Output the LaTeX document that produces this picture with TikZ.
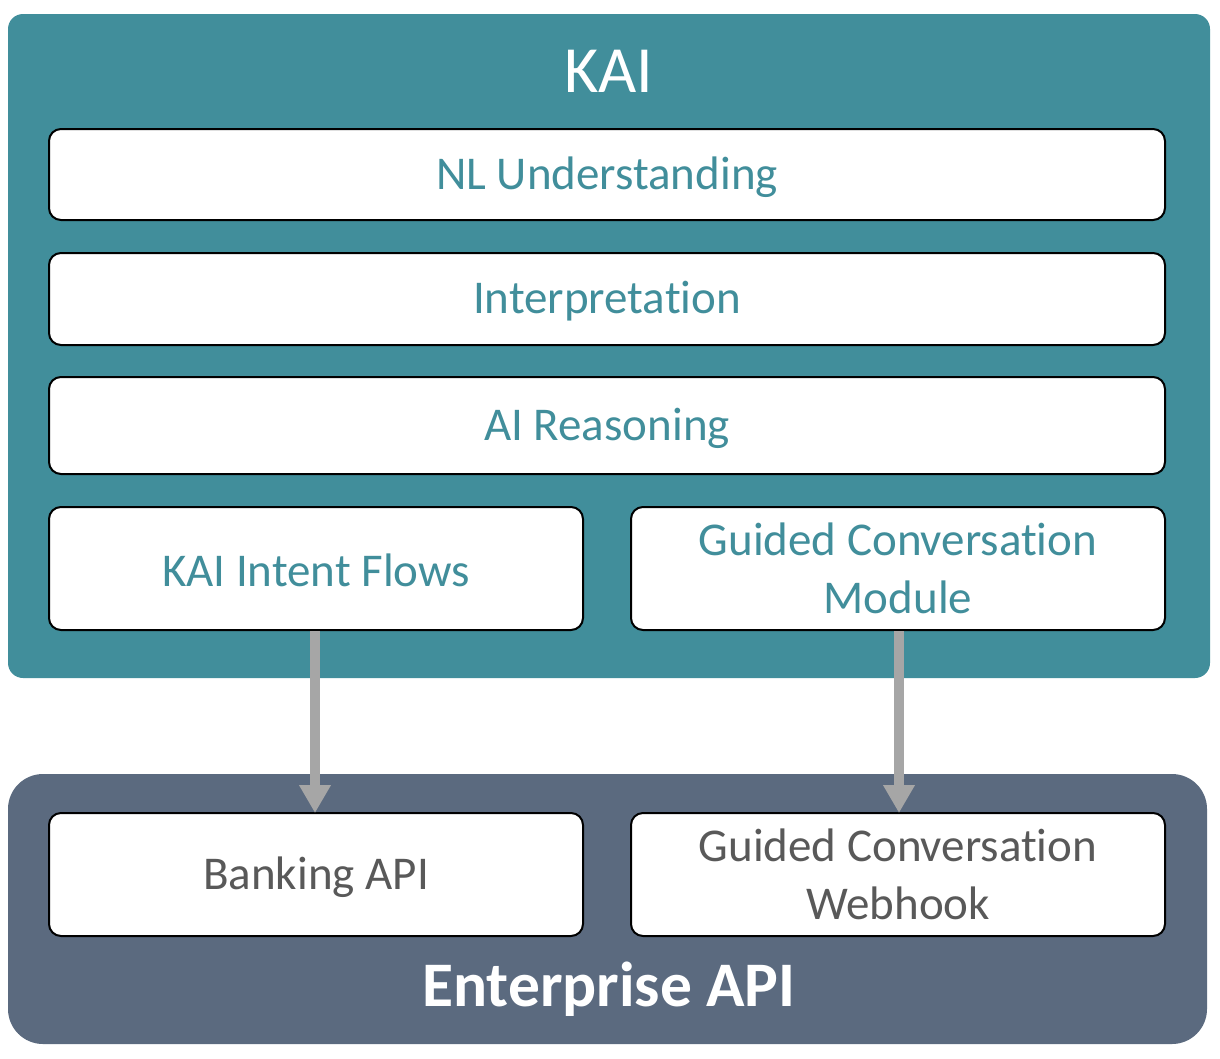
\documentclass[tikz,border=0pt]{standalone}
\usepackage{fontspec}
\setmainfont{Carlito}[Ligatures=NoCommon]
\usetikzlibrary{arrows.meta}
\definecolor{kaiteal}{HTML}{418E9B}
\definecolor{entslate}{HTML}{5B6A7F}
\definecolor{arrgray}{HTML}{A6A6A6}
\definecolor{txtgray}{HTML}{595959}
\begin{document}
\begin{tikzpicture}[x=1pt,y=-1pt,
  layer/.style={draw=black,line width=2pt,fill=white,rounded corners=12pt,inner sep=0pt},
  tealtxt/.style={text=kaiteal,font=\fontsize{47}{58}\selectfont,align=center},
  graytxt/.style={text=txtgray,font=\fontsize{47}{58}\selectfont,align=center},
  flow/.style={draw=arrgray,line width=10pt,-{Triangle[width=30pt,length=28pt]}}]
\useasboundingbox (0,0) rectangle (1220,1058);
% containers
\fill[kaiteal,rounded corners=15pt] (8,14) rectangle (1210,678);
\fill[entslate,rounded corners=35pt] (8,774) rectangle (1207,1044);
\node[text=white,font=\fontsize{66}{70}\selectfont] (kai) at (609,71) {KAI};
\node[text=white,font=\fontsize{63.5}{70}\selectfont\bfseries] (ent) at (609,989) {Enterprise API};
% layers
\draw[layer] (49,129) rectangle (1165,220);
\node[tealtxt] (nlu) at (607,177) {NL Understanding};
\draw[layer] (49,253) rectangle (1165,345);
\node[tealtxt] (interp) at (607,301.5) {Interpretation};
\draw[layer] (49,377) rectangle (1165,474);
\node[tealtxt] (air) at (607,428) {AI Reasoning};
\draw[layer] (49,507) rectangle (583,630);
\node[tealtxt] (kif) at (316,570.5) {KAI Intent Flows};
\draw[layer] (631,507) rectangle (1165,630);
\node[tealtxt] (gcm) at (898,568) {Guided Conversation\\Module};
\draw[layer] (49,813) rectangle (583,936);
\node[graytxt] (bank) at (316,877) {Banking API};
\draw[layer] (631,813) rectangle (1165,936);
\node[graytxt] (gcw) at (898,874.5) {Guided Conversation\\Webhook};
% anchors for connectors
\coordinate (kifb) at (315,631);
\coordinate (banktop) at (315,813);
\coordinate (gcmb) at (899,631);
\coordinate (gcwtop) at (899,813);
\draw[flow] (kifb) -- (banktop);
\draw[flow] (gcmb) -- (gcwtop);
\end{tikzpicture}
\end{document}
